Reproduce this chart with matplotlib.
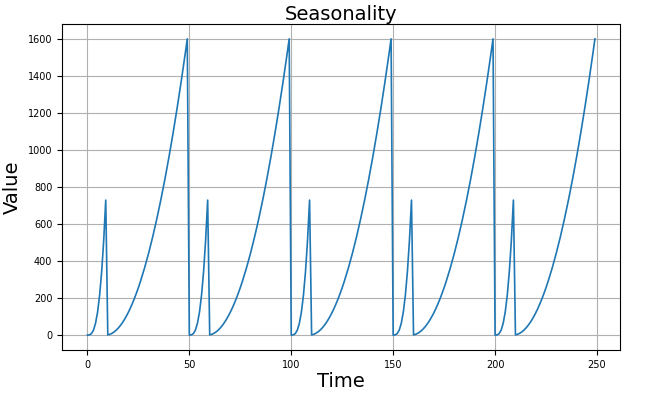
import matplotlib.pyplot as plt
import numpy as np

# one season (period of 50 steps)
season_values = [0, 1, 8, 27, 64, 125, 216, 343, 512, 729,
                 1, 4, 9, 16, 25, 36, 49, 64, 81, 100,
                 121, 144, 169, 196, 225, 256, 289, 324, 361, 400,
                 441, 484, 529, 576, 625, 676, 729, 784, 841, 900,
                 961, 1024, 1089, 1156, 1225, 1296, 1369, 1444, 1521, 1600]
n_seasons = 5

series = np.array(season_values * n_seasons)
time = np.arange(len(series))

fig = plt.figure(figsize=(6.67, 3.94), dpi=100)
ax = fig.add_axes([0.093, 0.112, 0.837, 0.827])
ax.plot(time, series, color='#1f77b4', linewidth=1.2)
ax.set_title('Seasonality', fontsize=14, pad=2)
ax.set_xlabel('Time', fontsize=14, labelpad=2)
ax.set_ylabel('Value', fontsize=14, labelpad=4)
ax.tick_params(labelsize=7)
ax.set_xticks([0, 50, 100, 150, 200, 250])
ax.set_yticks(np.arange(0, 1601, 200))
ax.grid(True, color='#b0b0b0', linewidth=0.8)
fig.savefig('out.png', dpi=100)
